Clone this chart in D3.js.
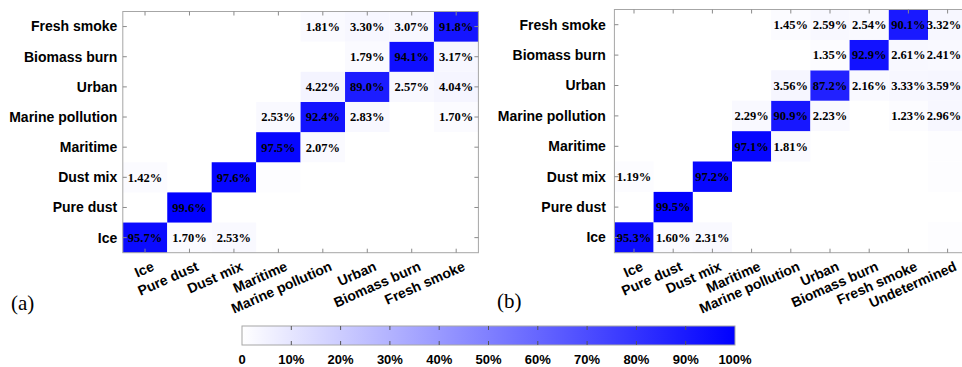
<!DOCTYPE html>
<html>
<head>
<meta charset="utf-8">
<script src="https://cdn.jsdelivr.net/npm/d3@7"></script>
<style>
  html, body { margin: 0; padding: 0; background: #fff; overflow: hidden; }
  svg { display: block; }
</style>
</head>
<body>
<svg id="chart" width="962" height="367"></svg>
<script>
// Aerosol classes (true class on y, predicted class on x)
const classesA = ["Ice", "Pure dust", "Dust mix", "Maritime", "Marine pollution", "Urban", "Biomass burn", "Fresh smoke"];
const classesB = ["Ice", "Pure dust", "Dust mix", "Maritime", "Marine pollution", "Urban", "Biomass burn", "Fresh smoke", "Undetermined"];

// Panel (a): percentage of each true class assigned to each predicted class
const matrixA = [
  [95.7, 1.70, 2.53, 0, 0, 0, 0, 0],        // Ice
  [0, 99.6, 0, 0, 0, 0, 0, 0],              // Pure dust
  [1.42, 0, 97.6, 0.9, 0, 0, 0, 0],         // Dust mix
  [0, 0, 0, 97.5, 2.07, 0, 0, 0],           // Maritime
  [0, 0, 0, 2.53, 92.4, 2.83, 0, 1.70],     // Marine pollution
  [0, 0, 0, 0, 4.22, 89.0, 2.57, 4.04],     // Urban
  [0, 0, 0, 0, 0, 1.79, 94.1, 3.17],        // Biomass burn
  [0, 0, 0, 0, 1.81, 3.30, 3.07, 91.8]      // Fresh smoke
];

// Panel (b): same, with an extra "Undetermined" predicted class
const matrixB = [
  [95.3, 1.60, 2.31, 0, 0, 0, 0, 0, 0.7],       // Ice
  [0, 99.5, 0, 0, 0, 0, 0, 0, 0],               // Pure dust
  [1.19, 0, 97.2, 0, 0, 0, 0, 0, 0.9],          // Dust mix
  [0, 0, 0, 97.1, 1.81, 0, 0, 0, 0.9],          // Maritime
  [0, 0, 0, 2.29, 90.9, 2.23, 0, 1.23, 2.96],   // Marine pollution
  [0, 0, 0, 0, 3.56, 87.2, 2.16, 3.33, 3.59],   // Urban
  [0, 0, 0, 0, 0, 1.35, 92.9, 2.61, 2.41],      // Biomass burn
  [0, 0, 0, 0, 1.45, 2.59, 2.54, 90.1, 3.32]    // Fresh smoke
];

const colorbarTicks = [0, 10, 20, 30, 40, 50, 60, 70, 80, 90, 100];
const panelLabels = ["(a)", "(b)"];

const W = 962;
const svg = d3.select("#chart");
const color = d3.scaleLinear().domain([0, 100]).range(["#ffffff", "#0000ff"]);
const fmt = d3.format(".3r");

const SANS = "'Liberation Sans', Arial, sans-serif";
const SERIF = "'Liberation Serif', 'Times New Roman', serif";
const BOX = "#a6a6a6";
const TICK = "#8a8a8a";

function drawPanel(cfg) {
  const { xClasses, yClasses, matrix, left, right, top, bottom, yLabelGap } = cfg;
  const g = svg.append("g");

  const x = d3.scaleBand().domain(xClasses).range([left, right]).padding(0);
  const y = d3.scaleBand().domain(yClasses.slice().reverse()).range([top, bottom]).padding(0);

  const cells = [];
  matrix.forEach((row, i) => row.forEach((v, j) => {
    if (v > 0) cells.push({ row: yClasses[i], col: xClasses[j], v });
  }));

  g.selectAll("rect.cell").data(cells).join("rect")
    .attr("class", "cell")
    .attr("x", d => x(d.col))
    .attr("y", d => y(d.row))
    .attr("width", x.bandwidth())
    .attr("height", y.bandwidth())
    .attr("fill", d => color(d.v));

  // value labels; the last column of a panel running past the page edge is kept inside it
  g.selectAll("text.val").data(cells.filter(d => d.v >= 1)).join("text")
    .attr("class", "val")
    .attr("x", d => Math.min(x(d.col) + x.bandwidth() / 2, W - 18))
    .attr("y", d => y(d.row) + y.bandwidth() / 2)
    .attr("dy", "0.35em")
    .attr("text-anchor", "middle")
    .attr("font-family", SERIF)
    .attr("font-weight", "bold")
    .attr("font-size", 12.5)
    .attr("fill", "#000")
    .text(d => fmt(d.v) + "%");

  // Box outline
  g.append("rect")
    .attr("x", left).attr("y", top)
    .attr("width", right - left).attr("height", bottom - top)
    .attr("fill", "none").attr("stroke", BOX).attr("stroke-width", 1);

  const tl = 4;
  // inward ticks on all four sides
  xClasses.forEach(c => {
    const cx = x(c) + x.bandwidth() / 2;
    g.append("line").attr("x1", cx).attr("x2", cx).attr("y1", bottom).attr("y2", bottom - tl).attr("stroke", TICK);
    g.append("line").attr("x1", cx).attr("x2", cx).attr("y1", top).attr("y2", top + tl).attr("stroke", TICK);
  });
  yClasses.forEach(c => {
    const cy = y(c) + y.bandwidth() / 2;
    g.append("line").attr("x1", left).attr("x2", left + tl).attr("y1", cy).attr("y2", cy).attr("stroke", TICK);
    g.append("line").attr("x1", right).attr("x2", right - tl).attr("y1", cy).attr("y2", cy).attr("stroke", TICK);
  });

  // y tick labels
  g.selectAll("text.ylab").data(yClasses).join("text")
    .attr("class", "ylab")
    .attr("x", left - yLabelGap)
    .attr("y", d => y(d) + y.bandwidth() / 2)
    .attr("dy", "0.35em")
    .attr("text-anchor", "end")
    .attr("font-family", SANS)
    .attr("font-weight", "bold")
    .attr("font-size", 14)
    .attr("fill", "#000")
    .text(d => d);

  // rotated x tick labels
  g.selectAll("text.xlab").data(xClasses).join("text")
    .attr("class", "xlab")
    .attr("transform", d => `translate(${x(d) + x.bandwidth() / 2 + 6},${bottom + 8}) rotate(-24)`)
    .attr("dy", "0.71em")
    .attr("text-anchor", "end")
    .attr("font-family", SANS)
    .attr("font-weight", "bold")
    .attr("font-size", 14)
    .attr("fill", "#000")
    .text(d => d);
}

drawPanel({
  xClasses: classesA, yClasses: classesA, matrix: matrixA,
  left: 122.8, right: 478.4, top: 11.5, bottom: 252.7, yLabelGap: 5.5
});
drawPanel({
  xClasses: classesB, yClasses: classesA, matrix: matrixB,
  left: 614.4, right: 967.2, top: 9.5, bottom: 252.7, yLabelGap: 8.5
});

// Panel letters
svg.selectAll("text.panel").data(panelLabels).join("text")
  .attr("class", "panel")
  .attr("x", (d, i) => i === 0 ? 11 : 497)
  .attr("y", (d, i) => i === 0 ? 310 : 308)
  .attr("font-family", SERIF)
  .attr("font-size", 21)
  .attr("fill", "#000")
  .text(d => d);

// Colorbar
const cb = { left: 242, right: 735, top: 326, bottom: 345 };
const defs = svg.append("defs");
const grad = defs.append("linearGradient").attr("id", "cbgrad")
  .attr("x1", "0%").attr("x2", "100%").attr("y1", "0%").attr("y2", "0%");
grad.append("stop").attr("offset", "0%").attr("stop-color", color(0));
grad.append("stop").attr("offset", "100%").attr("stop-color", color(100));

const cx = d3.scaleLinear().domain([0, 100]).range([cb.left, cb.right]);
svg.append("rect")
  .attr("x", cb.left).attr("y", cb.top)
  .attr("width", cb.right - cb.left).attr("height", cb.bottom - cb.top)
  .attr("fill", "url(#cbgrad)").attr("stroke", BOX);

colorbarTicks.slice(1, -1).forEach(t => {
  svg.append("line").attr("x1", cx(t)).attr("x2", cx(t)).attr("y1", cb.top).attr("y2", cb.top + 4).attr("stroke", "#555");
  svg.append("line").attr("x1", cx(t)).attr("x2", cx(t)).attr("y1", cb.bottom).attr("y2", cb.bottom - 4).attr("stroke", "#555");
});

svg.selectAll("text.cbl").data(colorbarTicks).join("text")
  .attr("class", "cbl")
  .attr("x", d => cx(d))
  .attr("y", 364)
  .attr("text-anchor", "middle")
  .attr("font-family", SANS)
  .attr("font-weight", "bold")
  .attr("font-size", 13)
  .attr("fill", "#000")
  .text(d => d === 0 ? "0" : d + "%");
</script>
</body>
</html>
